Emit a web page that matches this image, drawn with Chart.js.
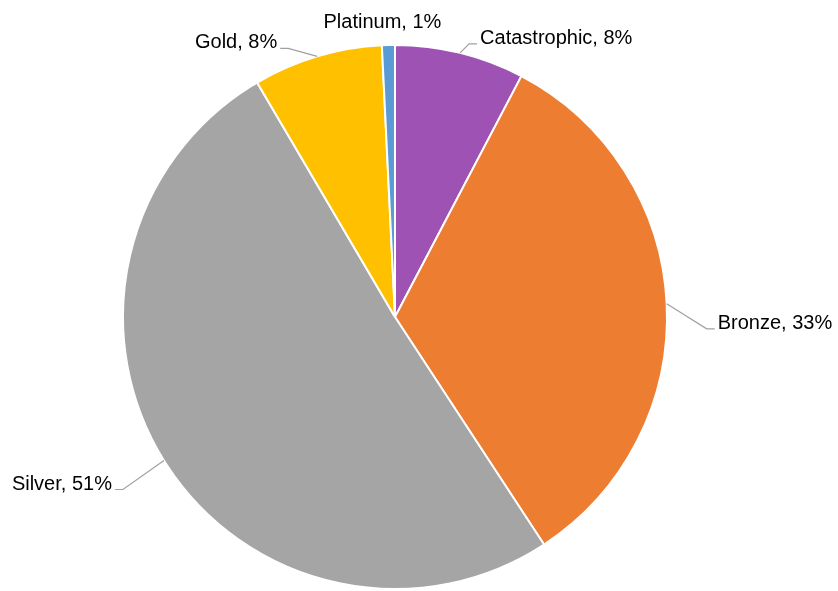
<!DOCTYPE html>
<html>
<head>
<meta charset="utf-8">
<title>Tier distribution</title>
<script src="https://cdn.jsdelivr.net/npm/chart.js@4.4.1/dist/chart.umd.min.js"></script>
<style>
  html, body { margin: 0; padding: 0; background: #fff; }
  #wrap { width: 838px; height: 591px; position: relative; }
</style>
</head>
<body>
<div id="wrap"><canvas id="pie-chart"></canvas></div>
<script>
// Counts per tier, clockwise from 12 o'clock
const categories = ["Catastrophic", "Bronze", "Silver", "Gold", "Platinum"];
const counts = [10, 43, 66, 10, 1];
const sliceColors = ["#9E53B4", "#ED7D31", "#A5A5A5", "#FFC000", "#5B9BD5"];

// Where each label sits relative to the point on the rim (elbow of the leader line)
// leader: false means the label is just placed above the slice with no line
const labelLayout = [
  { dx: 9, dy: -9, side: 1, leader: true },
  { dx: 40, dy: 25, side: 1, leader: true },
  { dx: -41, dy: 29, side: -1, leader: true },
  { dx: -29, dy: -8, side: -1, leader: true },
  { dx: -6, dy: -17, side: 0, leader: false }
];

const total = counts.reduce((a, b) => a + b, 0);
const labelText = categories.map((name, i) => name + ", " + Math.round(counts[i] / total * 100) + "%");

// Draws "Name, pct%" labels outside the pie with bent leader lines
const outsideLabels = {
  id: "outsideLabels",
  afterDatasetsDraw(chart) {
    const ctx = chart.ctx;
    const arcs = chart.getDatasetMeta(0).data;
    ctx.save();
    ctx.font = '20px "Liberation Sans", Arial, sans-serif';
    ctx.fillStyle = "#000";
    ctx.strokeStyle = "#A0A0A0";
    ctx.lineWidth = 1.2;
    ctx.textBaseline = "alphabetic";

    arcs.forEach((arc, i) => {
      const mid = (arc.startAngle + arc.endAngle) / 2;
      const px = arc.x + Math.cos(mid) * arc.outerRadius;
      const py = arc.y + Math.sin(mid) * arc.outerRadius;
      const lay = labelLayout[i];
      const ex = px + lay.dx;
      const ey = py + lay.dy;

      if (!lay.leader) {
        ctx.textAlign = "center";
        ctx.fillText(labelText[i], ex, ey);
        return;
      }

      const hx = ex + lay.side * 8;
      ctx.beginPath();
      ctx.moveTo(px, py);
      ctx.lineTo(ex, ey);
      ctx.lineTo(hx, ey);
      ctx.stroke();

      ctx.textAlign = lay.side > 0 ? "left" : "right";
      ctx.fillText(labelText[i], hx + lay.side * 3, ey);
    });
    ctx.restore();
  }
};

new Chart(document.getElementById("pie-chart"), {
  type: "pie",
  data: {
    labels: categories,
    datasets: [{
      data: counts,
      backgroundColor: sliceColors,
      borderColor: "#fff",
      borderWidth: 2
    }]
  },
  options: {
    responsive: true,
    maintainAspectRatio: false,
    animation: false,
    radius: 272,
    layout: { padding: { left: 0, right: 48, top: 43, bottom: 0 } },
    plugins: {
      legend: { display: false },
      tooltip: { enabled: false }
    }
  },
  plugins: [outsideLabels]
});
</script>
</body>
</html>
